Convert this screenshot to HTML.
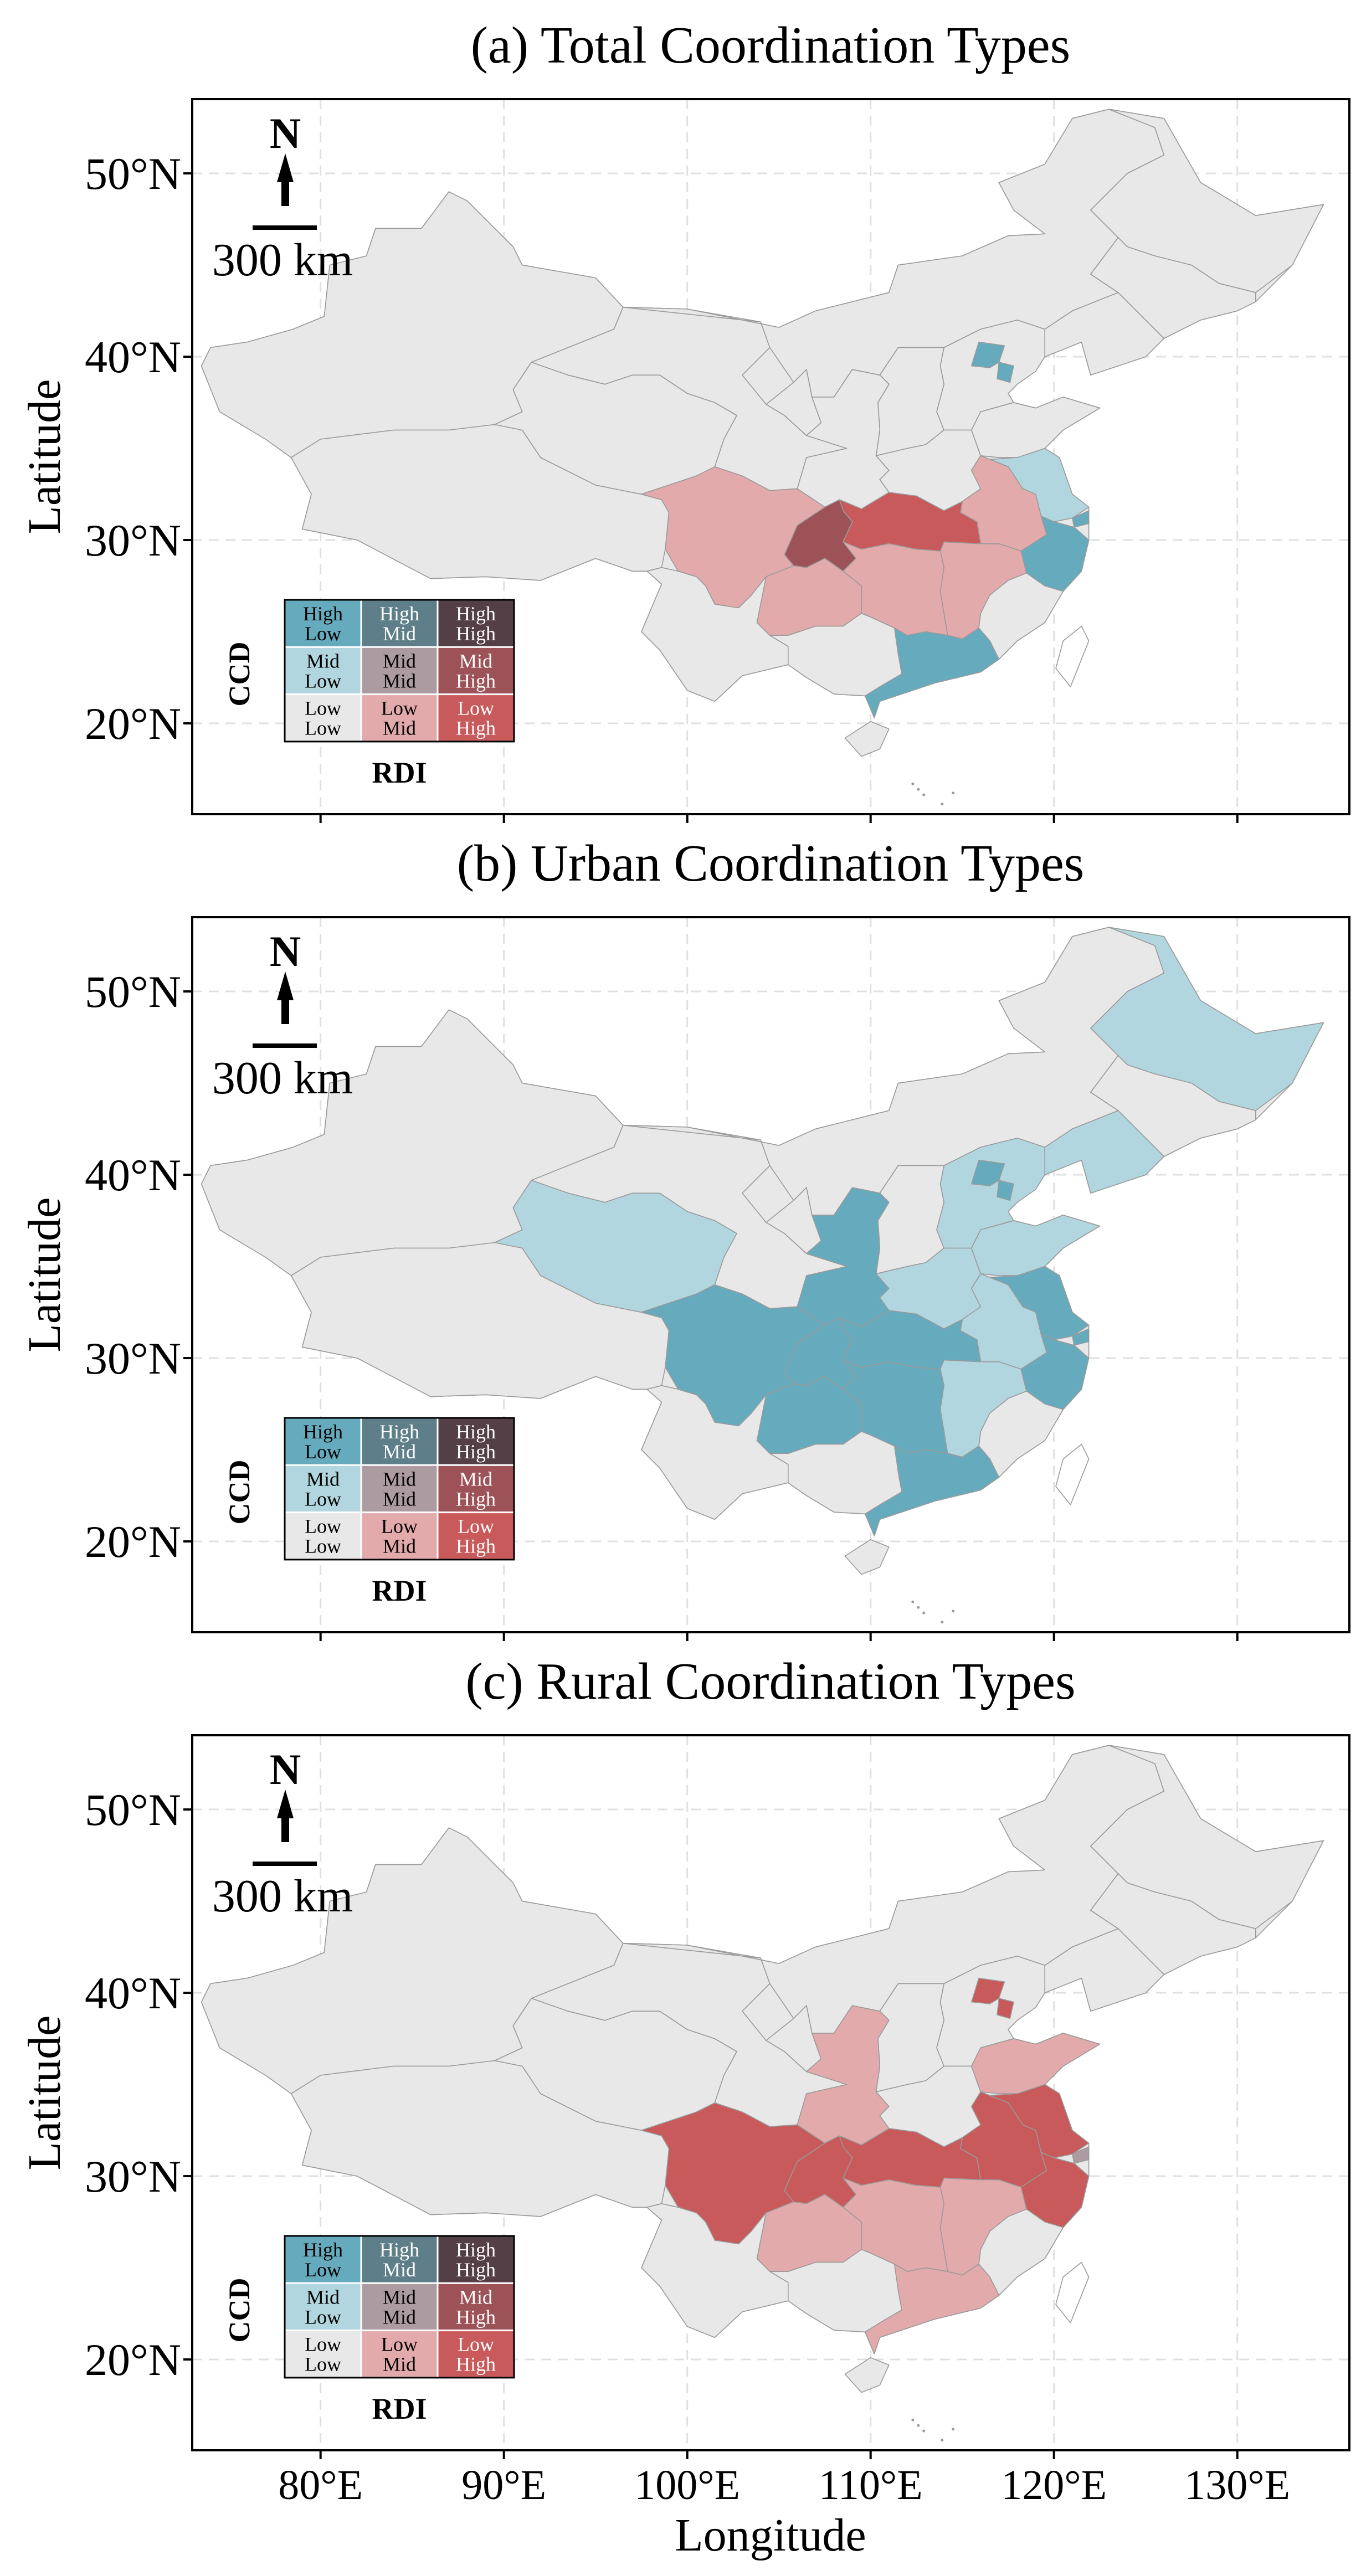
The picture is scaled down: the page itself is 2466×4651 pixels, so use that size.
<!DOCTYPE html>
<html><head><meta charset="utf-8">
<style>
html,body{margin:0;padding:0;background:#fff;}
svg{display:block;font-family:"Liberation Serif",serif;}
</style></head>
<body>
<svg id="fig" width="2466" height="4651" viewBox="0 0 2466 4651" xmlns="http://www.w3.org/2000/svg"></svg>
<script>
// ---------- data ----------
const panelTitles = ["(a) Total Coordination Types","(b) Urban Coordination Types","(c) Rural Coordination Types"];
const latTicks = [20,30,40,50];
const lonTicks = [80,90,100,110,120,130];
const latTickLabels = ["20°N","30°N","40°N","50°N"];
const lonTickLabels = ["80°E","90°E","100°E","110°E","120°E","130°E"];
const classColors = {LL:"#e8e8e8",LM:"#e3aaab",LH:"#c85a5b",ML:"#b2d6df",MM:"#ad9ba2",MH:"#9c5256",HL:"#66abbd",HM:"#5e7e8a",HH:"#553f47"};
const legendRows = [["HL","HM","HH"],["ML","MM","MH"],["LL","LM","LH"]];
const legendText = {HL:["High","Low"],HM:["High","Mid"],HH:["High","High"],ML:["Mid","Low"],MM:["Mid","Mid"],MH:["Mid","High"],LL:["Low","Low"],LM:["Low","Mid"],LH:["Low","High"]};
const totalTypes = {sichuan:"LM",chongqing:"MH",hubei:"LH",guizhou:"LM",hunan:"LM",jiangxi:"LM",anhui:"LM",jiangsu:"ML",shanghai:"HL",zhejiang:"HL",guangdong:"HL",beijing:"HL",tianjin:"HL"};
const urbanTypes = {heilongjiang:"ML",liaoning:"ML",hebei:"ML",beijing:"HL",tianjin:"HL",shandong:"ML",henan:"ML",jiangsu:"HL",shanghai:"HL",anhui:"ML",jiangxi:"ML",zhejiang:"HL",qinghai:"ML",shaanxi:"HL",sichuan:"HL",chongqing:"HL",hubei:"HL",hunan:"HL",guizhou:"HL",guangdong:"HL"};
const ruralTypes = {sichuan:"LH",chongqing:"LH",hubei:"LH",anhui:"LH",jiangsu:"LH",zhejiang:"LH",shanghai:"MM",shaanxi:"LM",shandong:"LM",beijing:"LH",tianjin:"LH",guizhou:"LM",hunan:"LM",jiangxi:"LM",guangdong:"LM"};
const panelTypes = [totalTypes,urbanTypes,ruralTypes];
const chinaOutline = [[123,53.5],[126,53],[128,49.5],[131,47.7],[134.7,48.3],[133,45],[131,43],[130,42.5],[128,42],[126,41],[125,40],[122,39],[121.5,40.8],[119.5,40],[119,39.2],[117.8,39.5],[117.6,38.6],[118,38.5],[117.5,38],[117.8,37.5],[119,37.2],[120.5,37.8],[122.5,37.2],[120.5,36],[119.5,35],[120.3,34.5],[121,32.5],[121.9,31.8],[121.9,30.9],[121.9,30],[121.5,28.3],[120.5,27.2],[119.5,25.5],[118,24.5],[117,23.5],[116,22.8],[113.5,22.2],[112,21.7],[110.5,21.2],[110.2,20.3],[109.7,21.5],[108,21.6],[106.5,22.5],[105.5,23.2],[103,22.6],[101.5,21.2],[100,21.8],[98.5,24],[97.5,25],[98.6,27.6],[97.8,28.3],[97,28.3],[95,29],[92,27.8],[89,28],[86,27.9],[82,30],[79,30.6],[79.5,32.5],[78.4,34.5],[77,35.5],[74.5,37],[73.5,39.5],[74,40.5],[76,40.8],[78.5,41.5],[80.2,42.2],[80.5,45],[82.5,45.5],[83,47],[85.5,47],[87,49],[88,48.5],[90.5,46],[91,45],[95,44.3],[96.5,42.7],[100,42.6],[105,41.6],[107,42.5],[111,43.5],[111.5,45],[115,45.5],[117.5,46.6],[119.5,46.7],[117.8,48],[117,49.5],[119.5,50.5],[121,53]];
const provinces = {
 xinjiang:[[73.5,39.5],[74,40.5],[76,40.8],[78.5,41.5],[80.2,42.2],[80.5,45],[82.5,45.5],[83,47],[85.5,47],[87,49],[88,48.5],[90.5,46],[91,45],[95,44.3],[96.5,42.7],[96,41.5],[93.5,40.5],[91.5,39.7],[90.5,38.2],[91,37],[89.5,36.3],[87,36],[84,36],[80,35.5],[78.4,34.5],[77,35.5],[74.5,37]],
 tibet:[[78.4,34.5],[80,35.5],[84,36],[87,36],[89.5,36.3],[91,36],[92,34.5],[95,33],[97.5,32.5],[98.6,32.2],[99,31.5],[98.8,29.5],[98.6,28.5],[97.8,28.3],[97,28.3],[95,29],[92,27.8],[89,28],[86,27.9],[82,30],[79,30.6],[79.5,32.5]],
 qinghai:[[89.5,36.3],[91,37],[90.5,38.2],[91.5,39.7],[93.5,39],[95.5,38.5],[97,39],[98.5,39],[100,38],[101.5,37.5],[102.7,36.8],[102,35.5],[101.5,34],[100.5,33.5],[99,33],[97.5,32.5],[95,33],[92,34.5],[91,36]],
 gansu:[[91.5,39.7],[93.5,40.5],[96,41.5],[96.5,42.7],[100,42.6],[104,41.9],[104.5,40.5],[103,39],[104.3,37.4],[105.3,36.8],[106.5,35.7],[108.7,35],[106.5,34.5],[106,32.8],[104.5,32.7],[103,33.5],[101.5,34],[102,35.5],[102.7,36.8],[101.5,37.5],[100,38],[98.5,39],[97,39],[95.5,38.5],[93.5,39]],
 innermongolia:[[96.5,42.7],[100,42.6],[105,41.6],[107,42.5],[111,43.5],[111.5,45],[115,45.5],[117.5,46.6],[119.5,46.7],[117.8,48],[117,49.5],[119.5,50.5],[121,53],[123,53.5],[125.5,52.5],[126,51],[124,50],[122,48],[123.5,46.5],[122,44.5],[123.5,43.5],[121,42.5],[119.5,41.5],[118,42],[116,41.5],[114,40.5],[111.5,40.5],[110.5,39],[109,39.3],[108,37.8],[106.8,37.8],[106.5,39.3],[105.8,38.6],[104.5,40.5],[104,41.9]],
 heilongjiang:[[123,53.5],[126,53],[128,49.5],[131,47.7],[134.7,48.3],[133,45],[131,43.5],[129,44],[127.5,45],[125.5,45.5],[124,46],[123.5,46.5],[122,48],[124,50],[126,51],[125.5,52.5]],
 jilin:[[123.5,46.5],[124,46],[125.5,45.5],[127.5,45],[129,44],[131,43.5],[131,43],[130,42.5],[128,42],[126,41],[125,42],[123.5,43.5],[122,44.5]],
 liaoning:[[121,42.5],[123.5,43.5],[125,42],[126,41],[125,40],[122,39],[121.5,40.8],[119.5,40],[119.5,41.5]],
 hebei:[[114,40.5],[116,41.5],[118,42],[119.5,41.5],[119.5,40],[119,39.2],[118,38.5],[117.5,38],[117.8,37.5],[116,37],[115.5,36],[114,36],[113.6,37],[114,38.5],[113.8,39.5]],
 beijing:[[115.5,39.5],[115.9,40.8],[117.3,40.6],[117,39.7],[116.5,39.4]],
 tianjin:[[117,39.7],[117.8,39.5],[117.6,38.6],[116.9,38.8]],
 shanxi:[[110.5,39],[111.5,40.5],[114,40.5],[113.8,39.5],[114,38.5],[113.6,37],[114,36],[113,35.2],[112,35],[110.3,34.6],[110.5,36],[110.4,37.5],[111,38.5]],
 ningxia:[[104.3,37.4],[105.3,36.8],[106.5,35.7],[107.3,36.4],[106.8,37.8],[106.5,39.3],[105.8,38.6]],
 shaanxi:[[110.5,39],[111,38.5],[110.4,37.5],[110.5,36],[110.3,34.6],[111,33.8],[110.5,33.3],[111,32.6],[109.5,31.7],[108.3,32.2],[107.5,31.8],[106,32.8],[106.5,34.5],[108.7,35],[106.5,35.7],[107.3,36.4],[106.8,37.8],[108,37.8],[109,39.3]],
 henan:[[110.3,34.6],[112,35],[113,35.2],[114,36],[115.5,36],[116,34.6],[115.5,33.8],[116,32.8],[115,32.1],[114,31.6],[112.5,32.4],[111,32.6],[110.5,33.3],[111,33.8]],
 shandong:[[115.5,36],[116,37],[117.8,37.5],[119,37.2],[120.5,37.8],[122.5,37.2],[120.5,36],[119.5,35],[118,34.5],[117,34.5],[116,34.6]],
 jiangsu:[[116.5,34.4],[118,34.5],[119.5,35],[120.3,34.5],[121,32.5],[121.9,31.8],[121,31.2],[120,31],[119.3,31.3],[119,32.5],[118.3,32.8],[117.5,34]],
 shanghai:[[121,31.2],[121.9,31.6],[121.9,30.9],[121.1,30.7]],
 anhui:[[116,34.6],[117.5,34],[118.3,32.8],[119,32.5],[119.3,31.3],[119.6,30.3],[118.2,29.4],[117,29.8],[116,29.8],[115.8,31],[114.9,31.5],[115,32.1],[116,32.8],[115.5,33.8]],
 zhejiang:[[119.3,31.3],[120,31],[121.1,30.7],[121.9,30],[121.5,28.3],[120.5,27.2],[119.5,27.5],[118.5,28.2],[118.2,29.4],[119.6,30.3]],
 fujian:[[118.5,28.2],[119.5,27.5],[120.5,27.2],[119.5,25.5],[118,24.5],[117,23.5],[116.5,24.5],[115.9,25.2],[116,26],[116.5,27],[117.5,27.8]],
 jiangxi:[[114,29.9],[116,29.8],[117,29.8],[118.2,29.4],[118.5,28.2],[117.5,27.8],[116.5,27],[116,26],[115.9,25.2],[115,24.6],[114.2,24.8],[114,26],[113.8,27.2],[114,28.5],[113.8,29.4]],
 hubei:[[108.3,32.2],[109.5,31.7],[111,32.6],[112.5,32.4],[114,31.6],[115,32.1],[114.9,31.5],[115.8,31],[116,29.8],[114,29.9],[113.8,29.4],[112.5,29.5],[111,29.8],[109.5,29.5],[108.5,29.9],[109,31],[108.5,31.6]],
 chongqing:[[105.3,29.2],[106,30.8],[107.5,31.8],[108.3,32.2],[108.5,31.6],[109,31],[108.5,29.9],[109.2,29],[108.5,28.3],[107.5,29],[106.5,28.5],[105.8,28.6]],
 sichuan:[[97.5,32.5],[99,33],[100.5,33.5],[101.5,34],[103,33.5],[104.5,32.7],[106,32.8],[107.5,31.8],[106,30.8],[105.3,29.2],[105.8,28.6],[104.3,28],[103.5,27],[102.8,26.3],[101.5,26.5],[101,27.5],[100.5,28],[99.5,28.3],[98.8,29.5],[99,31.5],[98.6,32.2]],
 guizhou:[[103.8,25.5],[104.3,28],[105.8,28.6],[106.5,28.5],[107.5,29],[108.5,28.3],[109.5,27.5],[109.5,26],[108.5,25.3],[107,25.3],[105.5,24.8],[104.5,24.8]],
 yunnan:[[98.6,28.5],[99.5,28.3],[100.5,28],[101,27.5],[101.5,26.5],[102.8,26.3],[103.5,27],[104.3,28],[103.8,25.5],[104.5,24.8],[105.5,24.2],[105.5,23.2],[103,22.6],[101.5,21.2],[100,21.8],[98.5,24],[97.5,25],[98.6,27.6],[97.8,28.3]],
 hunan:[[108.5,29.9],[109.5,29.5],[111,29.8],[112.5,29.5],[113.8,29.4],[114,28.5],[113.8,27.2],[114,26],[114.2,24.8],[113,25],[112,24.8],[111.3,25.2],[110,25.8],[109.5,26],[109.5,27.5],[108.5,28.3],[109.2,29]],
 guangxi:[[104.5,24.8],[105.5,24.8],[107,25.3],[108.5,25.3],[109.5,26],[110,25.8],[111.3,25.2],[112,24.8],[111.5,23.8],[111.7,22.7],[110.5,22],[109.7,21.5],[108,21.6],[106.5,22.5],[105.5,23.2],[105.5,24.2]],
 guangdong:[[111.3,25.2],[112,24.8],[113,25],[114.2,24.8],[115,24.6],[115.9,25.2],[116.5,24.5],[117,23.5],[116,22.8],[113.5,22.2],[112,21.7],[110.5,21.2],[110.2,20.3],[109.7,21.5],[110.5,22],[111.7,22.7],[111.5,23.8]],
 hainan:[[108.6,19.2],[109.5,18.2],[110.5,18.6],[111,19.7],[110,20.1]],
 taiwan:[[120.1,23],[120.9,22],[121.9,24.5],[121.5,25.3],[120.5,24.5]]
};
const islands = [[112.3,16.7],[112.6,16.4],[113.9,15.6],[114.5,16.2],[112.9,16.1]];

// ---------- layout ----------
const NS="http://www.w3.org/2000/svg";
const svg=document.getElementById('fig');
const frameL=347, frameR=2436, frameH=1291;
const panelTops=[179,1656,3133];
const lonMin=73, latMax=54.05, pxPerDeg=33.1;
function xScale(lon){return frameL+(lon-lonMin)*pxPerDeg;}
function yScale(lat,top){return top+(latMax-lat)*pxPerDeg;}
function mk(tag,attrs,parent){const e=document.createElementNS(NS,tag);for(const k in attrs)e.setAttribute(k,attrs[k]);(parent||svg).appendChild(e);return e;}

panelTops.forEach((top,pi)=>{
  const g=mk('g',{});
  
  
  const t=mk('text',{x:1391,y:top-66,'font-size':94,'text-anchor':'middle'},g);
  t.textContent=panelTitles[pi];
  
  
  const cp=mk('clipPath',{id:'clip'+pi},g);
  mk('rect',{x:frameL,y:top,width:frameR-frameL,height:frameH},cp);
  const inner=mk('g',{'clip-path':'url(#clip'+pi+')'},g);
  lonTicks.forEach(lon=>{const l=mk('line',{x1:xScale(lon),x2:xScale(lon),y1:top,y2:top+frameH,stroke:'#e0e0e0','stroke-width':3,'stroke-dasharray':'18,12'},inner);
    });
  latTicks.forEach(lat=>{const l=mk('line',{x1:frameL,x2:frameR,y1:yScale(lat,top),y2:yScale(lat,top),stroke:'#e0e0e0','stroke-width':3,'stroke-dasharray':'18,12'},inner);
    });
  const base=mk('polygon',{points:chinaOutline.map(p=>xScale(p[0]).toFixed(1)+','+yScale(p[1],top).toFixed(1)).join(' '),fill:'#e8e8e8',stroke:'#9a9a9a','stroke-width':1.6,'stroke-linejoin':'round'},inner);
  
  
  const types=panelTypes[pi];
  for(const name in provinces){
    const pts=provinces[name].map(p=>xScale(p[0]).toFixed(1)+','+yScale(p[1],top).toFixed(1)).join(' ');
    let fill=classColors[types[name]||'LL'];
    if(name==='taiwan') fill='#ffffff';
    const p=mk('polygon',{points:pts,fill:fill,stroke:'#9a9a9a','stroke-width':1.6,'stroke-linejoin':'round'},inner);
    
    
  }
  islands.forEach(d=>{const c=mk('circle',{cx:xScale(d[0]),cy:yScale(d[1],top),r:2.5,fill:'#999'},inner);
    });
  const fr=mk('rect',{x:frameL,y:top,width:frameR-frameL,height:frameH,fill:'none',stroke:'#000','stroke-width':4},g);
  
  latTicks.forEach((lat,i)=>{const y=yScale(lat,top);
    mk('line',{x1:frameL-16,x2:frameL,y1:y,y2:y,stroke:'#000','stroke-width':4},g);
    const tl=mk('text',{x:frameL-20,y:y+28,'font-size':82,'text-anchor':'end'},g);
    tl.textContent=latTickLabels[i];
    });
  lonTicks.forEach((lon,i)=>{const x=xScale(lon);
    mk('line',{x1:x,x2:x,y1:top+frameH,y2:top+frameH+16,stroke:'#000','stroke-width':4},g);
    if(pi===2){const tl=mk('text',{x:x,y:top+frameH+88,'font-size':76,'text-anchor':'middle'},g);
      tl.textContent=lonTickLabels[i];
      }});
  const yt=mk('text',{x:0,y:0,'font-size':84,'text-anchor':'middle',transform:'translate(108,'+(top+frameH/2)+') rotate(-90)'},g);
  yt.textContent='Latitude';
  
  const na=mk('g',{},g);
  
  const nt=mk('text',{x:515,y:top+88,'font-size':78,'font-weight':'bold','text-anchor':'middle'},na);nt.textContent='N';
  mk('polygon',{points:(515)+','+(top+98)+' '+(500)+','+(top+150)+' '+(530)+','+(top+150),fill:'#000'},na);
  mk('rect',{x:508,y:top+145,width:14,height:48,fill:'#000'},na);
  const sb=mk('rect',{x:456,y:top+228,width:116,height:8,fill:'#000'},g);
  
  const st=mk('text',{x:510,y:top+318,'font-size':84,'text-anchor':'middle'},g);st.textContent='300 km';
  
  const lg=mk('g',{},g);
  
  const lx=514, ly=top+904, cw=138, ch=85.3;
  legendRows.forEach((row,r)=>row.forEach((k,c)=>{
    const cell=mk('rect',{x:lx+c*cw,y:ly+r*ch,width:cw,height:ch,fill:classColors[k],stroke:'#fff','stroke-width':3},lg);
    
    const col=(k==='HM'||k==='HH'||k==='MH'||k==='LH')?'#fff':'#000';
    legendText[k].forEach((s,j)=>{const tx=mk('text',{x:lx+c*cw+cw/2,y:ly+r*ch+37+j*36,'font-size':36,'text-anchor':'middle',fill:col},lg);tx.textContent=s;});
  }));
  mk('rect',{x:lx,y:ly,width:cw*3,height:ch*3,fill:'none',stroke:'#000','stroke-width':3},lg);
  const ccd=mk('text',{x:0,y:0,'font-size':54,'font-weight':'bold','text-anchor':'middle',transform:'translate(450,'+(ly+134)+') rotate(-90)'},lg);ccd.textContent='CCD';
  const rdi=mk('text',{x:lx+cw*1.5,y:ly+330,'font-size':54,'font-weight':'bold','text-anchor':'middle'},lg);rdi.textContent='RDI';
});
const xt=mk('text',{x:1391,y:4605,'font-size':84,'text-anchor':'middle'});
xt.textContent='Longitude';


</script>
</body></html>
